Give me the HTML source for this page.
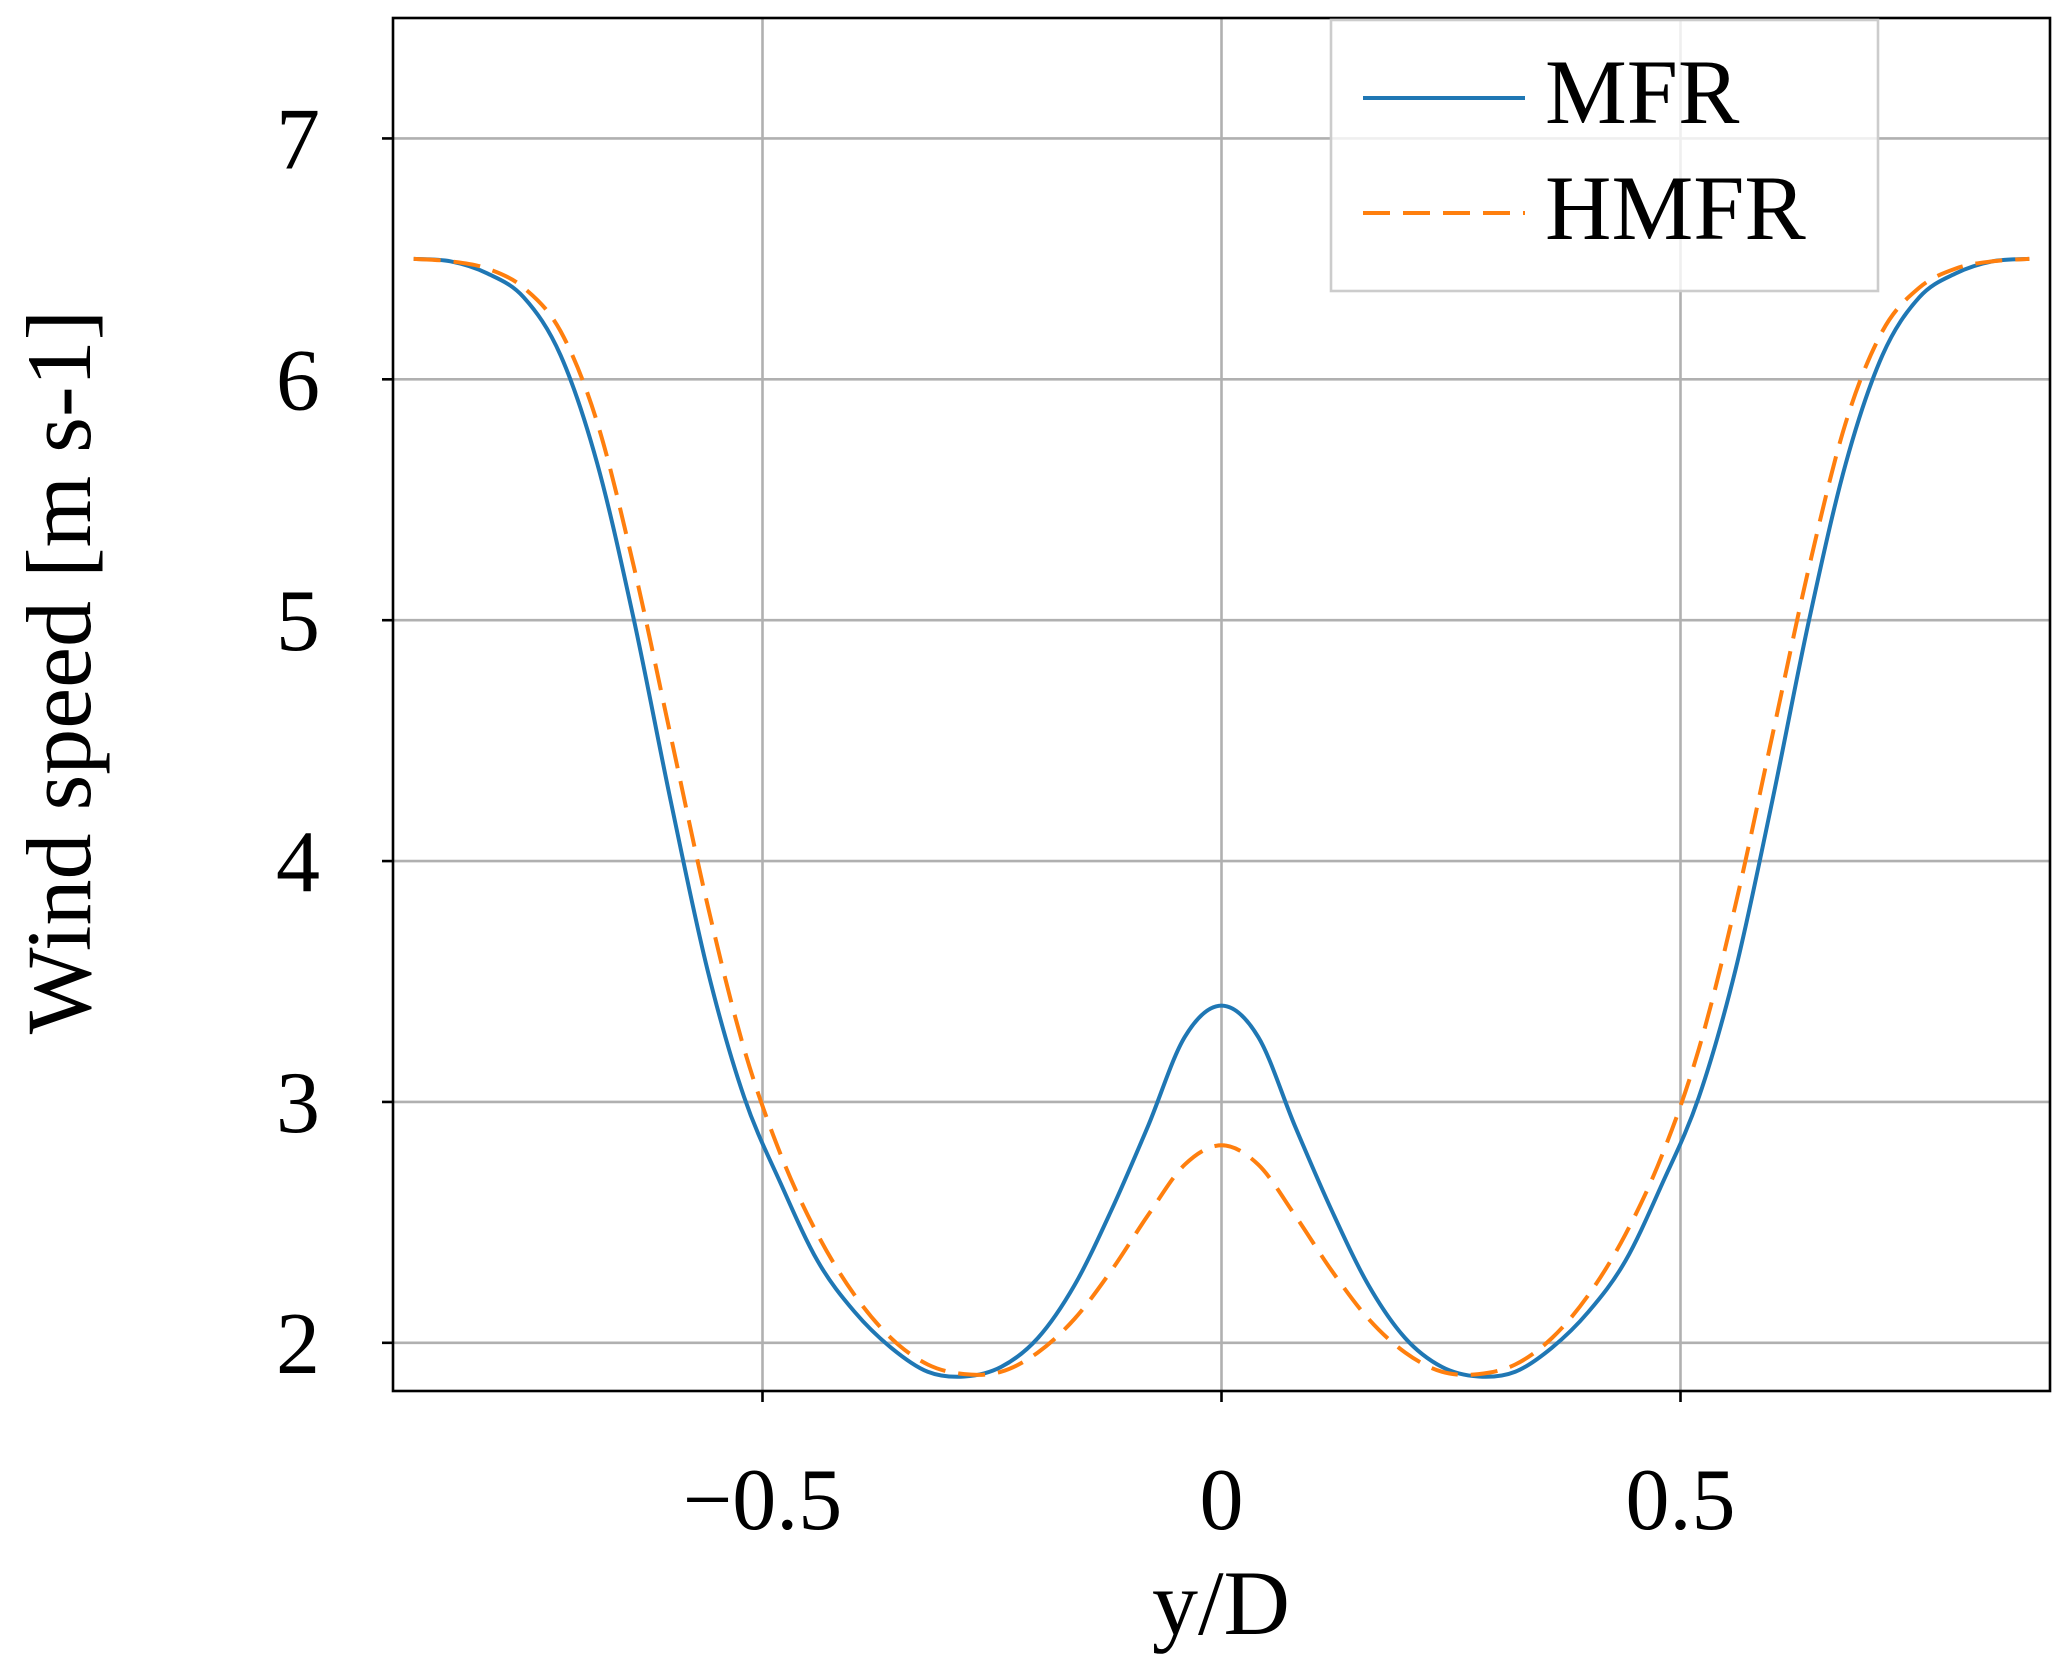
<!DOCTYPE html>
<html><head><meta charset="utf-8"><style>
html,body{margin:0;padding:0;background:#fff;}
svg{display:block;}
text{font-family:"Liberation Serif","DejaVu Serif",serif;fill:#000;}
</style></head><body>
<svg id="chart" width="2067" height="1680" viewBox="0 0 2067 1680" xmlns="http://www.w3.org/2000/svg">
<g id="grid"></g>
<g id="series"></g>
<rect x="393" y="18" width="1657" height="1373" fill="none" stroke="#000" stroke-width="2.6"/>
<g id="ticks"></g>
<text x="1221" y="1634" font-size="92" text-anchor="middle">y/D</text>
<text transform="translate(90,672) rotate(-90)" font-size="92" text-anchor="middle">Wind speed [m s-1]</text>
<g>
<rect x="1331" y="20" width="547" height="271" fill="#fff" fill-opacity="0.8" stroke="#cccccc" stroke-width="2.6"/>
<line x1="1363" y1="98" x2="1525" y2="98" stroke="#1f77b4" stroke-width="4"/>
<text x="1545" y="123" font-size="92">MFR</text>
<line x1="1363" y1="213" x2="1525" y2="213" stroke="#ff7f0e" stroke-width="4" stroke-dasharray="27,13"/>
<text x="1545" y="239" font-size="92">HMFR</text>
</g>
</svg>
<script>
const xs = [-0.88,-0.84,-0.8,-0.76,-0.72,-0.68,-0.64,-0.6,-0.56,-0.52,-0.48,-0.44,-0.4,-0.36,-0.32,-0.28,-0.24,-0.2,-0.16,-0.12,-0.08,-0.04,0,0.04,0.08,0.12,0.16,0.2,0.24,0.28,0.32,0.36,0.4,0.44,0.48,0.52,0.56,0.6,0.64,0.68,0.72,0.76,0.8,0.84,0.88];
const mfr = [6.50,6.49,6.44,6.34,6.10,5.65,5.00,4.25,3.55,3.02,2.66,2.34,2.13,1.98,1.88,1.86,1.90,2.02,2.24,2.55,2.90,3.27,3.40,3.27,2.90,2.55,2.24,2.02,1.90,1.86,1.88,1.98,2.13,2.34,2.66,3.02,3.55,4.25,5.00,5.65,6.10,6.34,6.44,6.49,6.50];
const hmfr = [6.50,6.49,6.46,6.38,6.20,5.82,5.22,4.52,3.82,3.22,2.78,2.45,2.20,2.02,1.91,1.87,1.88,1.96,2.10,2.30,2.53,2.74,2.82,2.74,2.53,2.30,2.10,1.96,1.88,1.87,1.91,2.02,2.20,2.45,2.78,3.22,3.82,4.52,5.22,5.82,6.20,6.38,6.46,6.49,6.50];
const xTicks = [-0.5,0,0.5];
const xTickLabels = ["\u22120.5","0","0.5"];
const yTicks = [2,3,4,5,6,7];
const yTickLabels = ["2","3","4","5","6","7"];

const NS="http://www.w3.org/2000/svg";
const L=393,R=2050,T=18,B=1391;
const xMin=-0.9025,xMax=0.9025,yMin=1.8,yMax=7.5;
function sx(v){return L+(v-xMin)/(xMax-xMin)*(R-L);}
function sy(v){return B-(v-yMin)/(yMax-yMin)*(B-T);}
function mk(tag,attrs,parent){const e=document.createElementNS(NS,tag);for(const k in attrs)e.setAttribute(k,attrs[k]);parent.appendChild(e);return e;}
const grid=document.getElementById('grid'),ticks=document.getElementById('ticks'),series=document.getElementById('series');
xTicks.forEach((v,i)=>{
  const g=mk('line',{x1:sx(v),x2:sx(v),y1:T,y2:B,stroke:'#b0b0b0','stroke-width':2.6},grid);
  
  
  const t=mk('line',{x1:sx(v),x2:sx(v),y1:B,y2:B+11,stroke:'#000','stroke-width':2.6},ticks);
  
  
  const tx=mk('text',{x:sx(v),y:1529,'font-size':88,'text-anchor':'middle'},ticks);
  tx.textContent=xTickLabels[i];
  
  
});
yTicks.forEach((v,i)=>{
  const g=mk('line',{x1:L,x2:R,y1:sy(v),y2:sy(v),stroke:'#b0b0b0','stroke-width':2.6},grid);
  
  
  const t=mk('line',{x1:L-11,x2:L,y1:sy(v),y2:sy(v),stroke:'#000','stroke-width':2.6},ticks);
  
  
  const tx=mk('text',{x:320,y:sy(v)+30,'font-size':88,'text-anchor':'end'},ticks);
  tx.textContent=yTickLabels[i];
  
  
});
function pathFor(ys){
  const p=xs.map((x,i)=>[sx(x),sy(ys[i])]);
  let d='M'+p[0][0]+','+p[0][1];
  for(let i=0;i<p.length-1;i++){
    const p0=p[Math.max(0,i-1)],p1=p[i],p2=p[i+1],p3=p[Math.min(p.length-1,i+2)];
    const c1=[p1[0]+(p2[0]-p0[0])/6,p1[1]+(p2[1]-p0[1])/6];
    const c2=[p2[0]-(p3[0]-p1[0])/6,p2[1]-(p3[1]-p1[1])/6];
    d+=' C'+c1+' '+c2+' '+p2;
  }
  return d;
}
const m=mk('path',{d:pathFor(mfr),fill:'none',stroke:'#1f77b4','stroke-width':4},series);


const h=mk('path',{d:pathFor(hmfr),fill:'none',stroke:'#ff7f0e','stroke-width':4,'stroke-dasharray':'27,13'},series);


</script>
</body></html>
